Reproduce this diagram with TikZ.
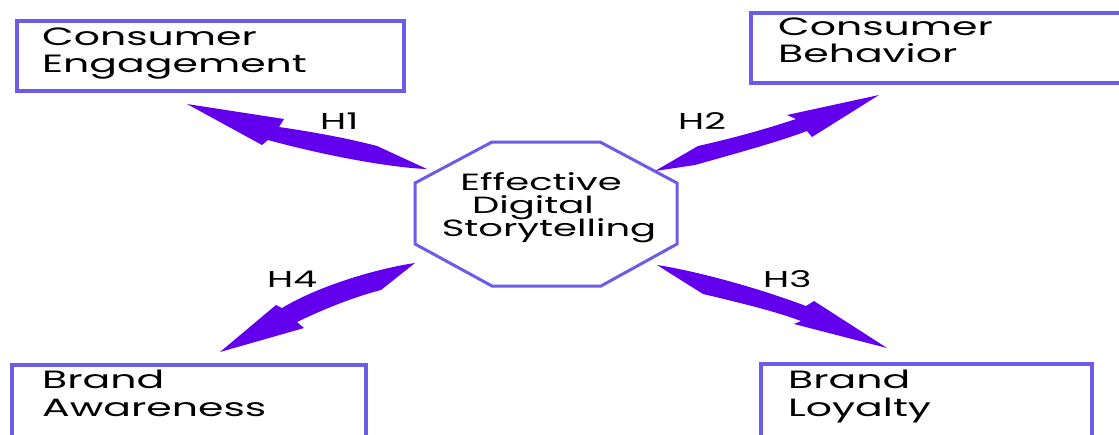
\documentclass[tikz,border=0pt]{standalone}
\usepackage{fontspec}
\setmainfont{Poppins}
\newfontfamily\widesans[FakeStretch=1.64]{Poppins}
\definecolor{framecol}{HTML}{6C5CE7}
\definecolor{arrowfill}{HTML}{6200EE}
\tikzset{
  box/.style={draw=framecol, line width=4pt, inner sep=0pt, anchor=north west},
  oct/.style={draw=framecol, line width=3pt, line join=miter},
  lab/.style={font=\widesans\fontsize{25}{27}\selectfont, inner sep=0pt, anchor=base west, text=black},
  ctr/.style={font=\widesans\fontsize{23.5}{23}\selectfont, inner sep=0pt, anchor=base, text=black},
  hyp/.style={font=\widesans\fontsize{23}{24}\selectfont, inner sep=0pt, anchor=base west, text=black},
  bigarrow/.style={fill=arrowfill, draw=none}
}
\begin{document}
\begin{tikzpicture}[x=1pt,y=-1pt]
  \useasboundingbox (0,0) rectangle (1119,434);
  \fill[white] (0,0) rectangle (1119,434);
  \clip (0,0) rectangle (1119,434);

  % outcome boxes
  \node[box, minimum width=387pt, minimum height=70pt] (ce) at (15,19) {};
  \node[box, minimum width=380pt, minimum height=70pt] (cb) at (749,11) {};
  \node[box, minimum width=354pt, minimum height=90pt] (ba) at (10,363) {};
  \node[box, minimum width=331pt, minimum height=90pt] (bl) at (759,362) {};

  \node[lab] (ce1) at (42,45) {Consumer};
  \node[lab] (ce2) at (42,72) {Engagement};
  \node[lab] (cb1) at (778,35) {Consumer};
  \node[lab] (cb2) at (778,62) {Behavior};
  \node[lab] (ba1) at (42,388) {Brand};
  \node[lab] (ba2) at (42,416) {Awareness};
  \node[lab] (bl1) at (788,388) {Brand};
  \node[lab] (bl2) at (788,416) {Loyalty};

  % central octagon
  \draw[oct] (492,142) -- (600,142) -- (677,183) -- (677,244) -- (601,286)
             -- (492,286) -- (415,244) -- (415,183) -- cycle;
  \coordinate (dst) at (546,214);
  \node[ctr] (dst1) at (541,190) {Effective};
  \node[ctr] (dst2) at (533,213) {Digital};
  \node[ctr] (dst3) at (549,236) {Storytelling};

  % tapered hypothesis arrows
  \fill[bigarrow] (187,104) -- (284,119) -- (279,127)
      .. controls (320,133) and (350,139) .. (377,146) -- (427,169)
      .. controls (395,168) and (330,157) .. (268,140) -- (262,145) -- cycle;
  \fill[bigarrow] (655,171) -- (698,146)
      .. controls (725,140) and (760,131) .. (796,119) -- (787,115) -- (879,95)
      -- (812,137) -- (807,131)
      .. controls (775,143) and (730,155) .. (695,165) -- cycle;
  \fill[bigarrow] (657,265)
      .. controls (690,270) and (750,285) .. (806,306) -- (814,301) -- (887,348)
      -- (794,324) -- (801,321)
      .. controls (780,313) and (750,305) .. (703,294) -- cycle;
  \fill[bigarrow] (415,263)
      .. controls (380,268) and (320,285) .. (282,308) -- (276,305) -- (220,352)
      -- (304,328) -- (297,322)
      .. controls (320,311) and (350,298) .. (381,290) -- cycle;

  \node[hyp] (h1) at (320,129) {H1};
  \node[hyp] (h2) at (678,129) {H2};
  \node[hyp] (h3) at (763,287) {H3};
  \node[hyp] (h4) at (267,287) {H4};
\end{tikzpicture}
\end{document}
